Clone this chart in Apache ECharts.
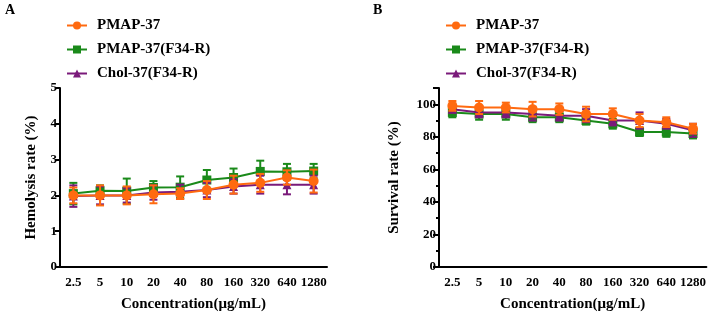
<!DOCTYPE html>
<html><head><meta charset="utf-8">
<script src="https://cdn.jsdelivr.net/npm/echarts@6/dist/echarts.min.js"></script>
<style>html,body{margin:0;padding:0;background:#fff}#c{width:709px;height:321px}</style>
</head><body><div id="c"></div>
<script>
const categories = ['2.5','5','10','20','40','80','160','320','640','1280'];
const names = ['PMAP-37','PMAP-37(F34-R)','Chol-37(F34-R)'];
// Panel A: Hemolysis rate (%)
const hemoPMAP = [2.0, 2.0, 2.0, 2.03, 2.05, 2.15, 2.3, 2.35, 2.5, 2.4];
const hemoPMAPErr = [0.22, 0.28, 0.25, 0.25, 0.15, 0.25, 0.25, 0.25, 0.2, 0.32];
const hemoF34 = [2.05, 2.13, 2.12, 2.22, 2.23, 2.43, 2.5, 2.67, 2.66, 2.68];
const hemoF34Err = [0.3, 0.15, 0.35, 0.18, 0.3, 0.28, 0.25, 0.3, 0.22, 0.2];
const hemoChol = [1.98, 2.0, 2.0, 2.08, 2.1, 2.15, 2.25, 2.3, 2.3, 2.3];
const hemoCholErr = [0.3, 0.25, 0.2, 0.2, 0.2, 0.2, 0.2, 0.25, 0.27, 0.25];
// Panel B: Survival rate (%)
const survPMAP = [99, 98, 98, 97, 97, 94, 94, 90, 89, 85];
const survPMAPErr = [3, 4, 3, 4.5, 3.5, 4.5, 3.5, 4, 3, 3];
const survF34 = [95, 94, 94, 92, 92, 90, 88, 83, 83, 82];
const survF34Err = [3, 3.5, 3.5, 3, 3, 2.5, 3, 2.5, 3, 3];
const survChol = [97, 95, 95, 94, 93, 93, 90, 90, 88, 84];
const survCholErr = [2, 3, 3, 4, 3, 4, 3, 5, 3, 4];

const colors = {'PMAP-37':'#ff6a10','PMAP-37(F34-R)':'#1a8a1a','Chol-37(F34-R)':'#7a1a7a'};
const symbols = {'PMAP-37':'circle','PMAP-37(F34-R)':'rect','Chol-37(F34-R)':'triangle'};
const symSizes = {'PMAP-37':10,'PMAP-37(F34-R)':9,'Chol-37(F34-R)':9};
const zOrder = {'PMAP-37(F34-R)':2,'Chol-37(F34-R)':3,'PMAP-37':4};
const FONT = '"Liberation Serif","Times New Roman",serif';

function errSeries(name, vals, errs, idx){
  return {
    type:'custom', name:name+' error', xAxisIndex:idx, yAxisIndex:idx, z:zOrder[name],
    itemStyle:{color:colors[name]},
    data: vals.map((v,i)=>[i, v-errs[i], v+errs[i]]),
    renderItem:function(params, api){
      const lo = api.coord([api.value(0), api.value(1)]);
      const hi = api.coord([api.value(0), api.value(2)]);
      const w = 4;
      const st = {stroke: colors[name], lineWidth: 2};
      return {type:'group', children:[
        {type:'line', shape:{x1:lo[0],y1:lo[1],x2:hi[0],y2:hi[1]}, style:st},
        {type:'line', shape:{x1:lo[0]-w,y1:lo[1],x2:lo[0]+w,y2:lo[1]}, style:st},
        {type:'line', shape:{x1:hi[0]-w,y1:hi[1],x2:hi[0]+w,y2:hi[1]}, style:st}
      ]};
    }
  };
}
function lineSeries(name, vals, idx){
  return {
    type:'line', name:name, xAxisIndex:idx, yAxisIndex:idx, z:zOrder[name]+0.5,
    data: vals, symbol: symbols[name], symbolSize: symSizes[name],
    itemStyle:{color:colors[name]}, lineStyle:{color:colors[name], width:2},
    animation:false
  };
}
const axisText = {fontFamily:FONT, fontWeight:'bold', fontSize:13, color:'#000'};
function xAxis(idx){
  return {type:'category', gridIndex:idx, data:categories, boundaryGap:true,
    axisLine:{lineStyle:{color:'#000', width:2}},
    axisTick:{alignWithLabel:true, interval:0, length:6, lineStyle:{width:2, color:'#000'}},
    axisLabel:Object.assign({margin:9, interval:0}, axisText),
    name:'Concentration(μg/mL)', nameLocation:'middle', nameGap:30,
    nameTextStyle:{fontFamily:FONT, fontWeight:'bold', fontSize:15, color:'#000'}};
}
const legendText = {fontFamily:FONT, fontWeight:'bold', fontSize:15, color:'#000', padding:[0,0,0,5]};
const option = {
  animation:false,
  textStyle:{fontFamily:FONT},
  grid:[{left:60, top:88, width:267, bottom:54},{left:439, top:88, width:268, bottom:54}],
  legend:[
    {orient:'vertical', left:61, top:13, itemGap:9, itemWidth:20, itemHeight:10,
     data:names, textStyle:legendText},
    {orient:'vertical', left:440, top:13, itemGap:9, itemWidth:20, itemHeight:10,
     data:names, textStyle:legendText}
  ],
  xAxis:[xAxis(0), xAxis(1)],
  yAxis:[
    {type:'value', gridIndex:0, min:0, max:5, interval:1,
     axisLine:{show:true, lineStyle:{color:'#000', width:2}},
     axisTick:{show:true, length:5, lineStyle:{width:2,color:'#000'}},
     splitLine:{show:false},
     axisLabel:Object.assign({margin:3}, axisText),
     name:'Hemolysis rate (%)', nameLocation:'middle', nameGap:21,
     nameTextStyle:{fontFamily:FONT, fontWeight:'bold', fontSize:15, color:'#000'}},
    {type:'value', gridIndex:1, min:0, max:110, interval:20,
     axisLine:{show:true, lineStyle:{color:'#000', width:2}},
     axisTick:{show:true, length:6, lineStyle:{width:2,color:'#000'}},
     splitLine:{show:false},
     axisLabel:Object.assign({margin:3, formatter:v=>(v%20===0 && v<=100)?String(v):''}, axisText),
     name:'Survival rate (%)', nameLocation:'middle', nameGap:37,
     nameTextStyle:{fontFamily:FONT, fontWeight:'bold', fontSize:15, color:'#000'}},
    {type:'value', gridIndex:1, min:0, max:110, interval:10, position:'left',
     axisLine:{show:false}, axisLabel:{show:false}, splitLine:{show:false},
     axisTick:{show:true, length:3, lineStyle:{width:2,color:'#000'}}}
  ],
  graphic:[
    {type:'text', left:5, top:3, style:{text:'A', font:'bold 14px '+FONT, fill:'#000'}},
    {type:'text', left:373, top:3, style:{text:'B', font:'bold 14px '+FONT, fill:'#000'}}
  ],
  series:[
    errSeries('PMAP-37(F34-R)', hemoF34, hemoF34Err, 0),
    errSeries('Chol-37(F34-R)', hemoChol, hemoCholErr, 0),
    errSeries('PMAP-37', hemoPMAP, hemoPMAPErr, 0),
    lineSeries('PMAP-37', hemoPMAP, 0),
    lineSeries('PMAP-37(F34-R)', hemoF34, 0),
    lineSeries('Chol-37(F34-R)', hemoChol, 0),
    errSeries('PMAP-37(F34-R)', survF34, survF34Err, 1),
    errSeries('Chol-37(F34-R)', survChol, survCholErr, 1),
    errSeries('PMAP-37', survPMAP, survPMAPErr, 1),
    lineSeries('PMAP-37', survPMAP, 1),
    lineSeries('PMAP-37(F34-R)', survF34, 1),
    lineSeries('Chol-37(F34-R)', survChol, 1)
  ]
};
const chart = echarts.init(document.getElementById('c'), null, {renderer:'canvas'});
chart.setOption(option);
</script>
</body></html>
